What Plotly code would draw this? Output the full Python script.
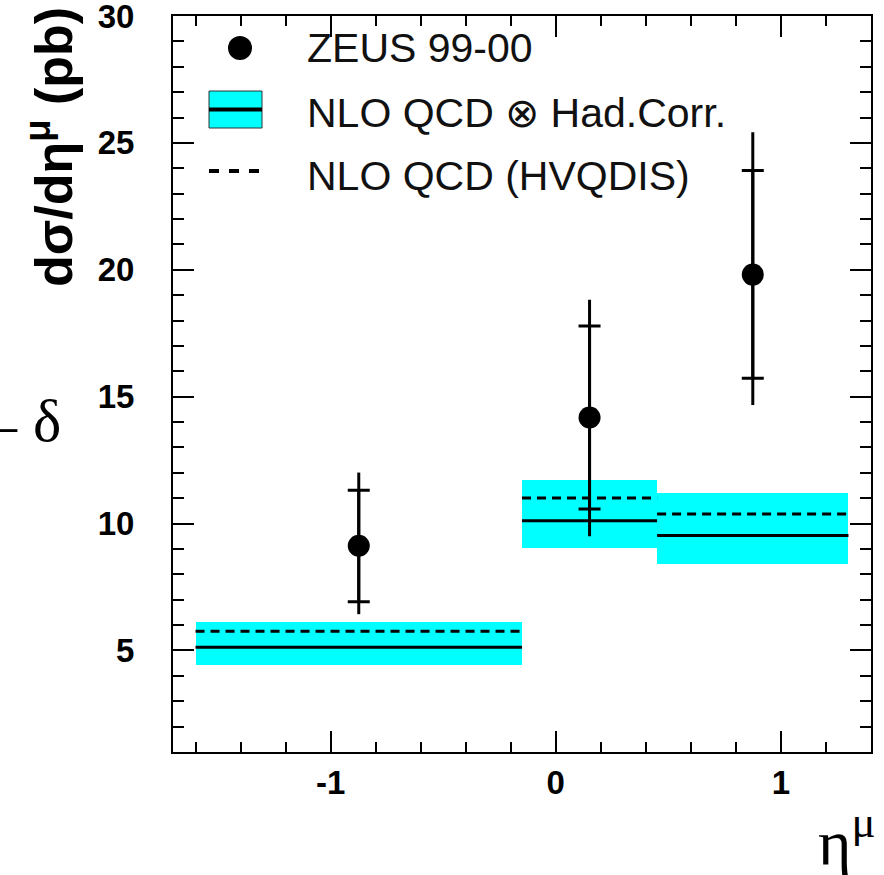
import plotly.graph_objects as go

# ---------------- data ----------------
bin_lo = [-1.6, -0.15, 0.45]
bin_hi = [-0.15, 0.45, 1.3]
eta_mu = [-0.875, 0.15, 0.875]
zeus_xsec = [9.13, 14.18, 19.81]
zeus_stat_up = [2.18, 3.61, 4.10]
zeus_stat_dn = [2.21, 3.61, 4.08]
zeus_tot_up = [2.88, 4.64, 5.61]
zeus_tot_dn = [2.70, 4.68, 5.14]
nlo_had = [5.13, 10.11, 9.53]
nlo_had_hi = [6.12, 11.71, 11.22]
nlo_had_lo = [4.44, 9.04, 8.40]
nlo_hvqdis = [5.76, 11.01, 10.38]
x_ticks = [-1, 0, 1]
x_tick_text = ["-1", "0", "1"]
y_ticks = [5, 10, 15, 20, 25, 30]
y_tick_text = ["5", "10", "15", "20", "25", "30"]

W, H = 884, 875
L, R, T, B = 173, 13, 16, 123
PW, PH = W - L - R, H - T - B


def px(xp):
    return (xp - L) / PW


def py(yp):
    return (H - B - yp) / PH


CYAN = "#00FFFF"
fig = go.Figure()

# theory band (NLO QCD x Had.Corr. uncertainty)
centers = [(a + b) / 2 for a, b in zip(bin_lo, bin_hi)]
widths = [b - a for a, b in zip(bin_lo, bin_hi)]
fig.add_trace(go.Bar(
    x=centers, y=[h - l for h, l in zip(nlo_had_hi, nlo_had_lo)], base=nlo_had_lo,
    width=widths, marker=dict(color=CYAN, line=dict(width=0)), showlegend=False,
    hoverinfo="skip"))


def steps(vals):
    xs, ys = [], []
    for a, b, v in zip(bin_lo, bin_hi, vals):
        xs += [a, b, None]
        ys += [v, v, None]
    return xs, ys


xs, ys = steps(nlo_had)
fig.add_trace(go.Scatter(x=xs, y=ys, mode="lines", line=dict(color="black", width=3),
                         showlegend=False))
xs, ys = steps(nlo_hvqdis)
fig.add_trace(go.Scatter(x=xs, y=ys, mode="lines",
                         line=dict(color="black", width=3, dash="9px,6px"),
                         showlegend=False))

# ZEUS data: total errors (line) + statistical ticks
fig.add_trace(go.Scatter(
    x=eta_mu, y=zeus_xsec, mode="markers",
    marker=dict(color="rgba(0,0,0,0)", size=1),
    error_y=dict(type="data", symmetric=False, array=zeus_stat_up, arrayminus=zeus_stat_dn,
                 color="black", thickness=3, width=11),
    showlegend=False))
fig.add_trace(go.Scatter(
    x=eta_mu, y=zeus_xsec, mode="markers",
    marker=dict(color="black", size=22, symbol="circle"),
    error_y=dict(type="data", symmetric=False, array=zeus_tot_up, arrayminus=zeus_tot_dn,
                 color="black", thickness=3, width=0),
    showlegend=False))

shapes = []
annotations = []

# legend (drawn manually)
shapes.append(dict(type="circle", xref="paper", yref="paper",
                   x0=px(228), x1=px(252), y0=py(36), y1=py(60),
                   fillcolor="black", line=dict(color="black", width=0)))
shapes.append(dict(type="rect", xref="paper", yref="paper",
                   x0=px(209), x1=px(262), y0=py(91), y1=py(128),
                   fillcolor=CYAN, line=dict(color="#333333", width=1)))
shapes.append(dict(type="line", xref="paper", yref="paper",
                   x0=px(209), x1=px(262), y0=py(109.5), y1=py(109.5),
                   line=dict(color="black", width=4)))
shapes.append(dict(type="line", xref="paper", yref="paper",
                   x0=px(209), x1=px(262), y0=py(171), y1=py(171),
                   line=dict(color="black", width=4, dash="10px,10px")))

LEG_FONT = dict(family="Liberation Sans, Arial, sans-serif", size=41, color="#111111")
for txt, yc in [("ZEUS 99-00", 48), ("NLO QCD ⊗ Had.Corr.", 113), ("NLO QCD (HVQDIS)", 176)]:
    annotations.append(dict(text=txt, x=px(305), y=py(yc), xref="paper", yref="paper",
                            xanchor="left", yanchor="middle", showarrow=False, font=LEG_FONT))

# y-axis title
annotations.append(dict(text="<b>dσ/dη<sup>μ</sup> (pb)</b>", x=px(50), y=py(147),
                        xref="paper", yref="paper", xanchor="center", yanchor="middle",
                        textangle=-90, showarrow=False,
                        font=dict(family="Liberation Sans, Arial, sans-serif", size=52,
                                  color="black")))
# stray texts from the page
SERIF = "Liberation Serif, Times New Roman, serif"
annotations.append(dict(text="–", x=px(2), y=py(424), xref="paper", yref="paper",
                        xanchor="center", yanchor="middle", showarrow=False,
                        font=dict(family=SERIF, size=58, color="black")))
annotations.append(dict(text="δ", x=px(47), y=py(421), xref="paper", yref="paper",
                        xanchor="center", yanchor="middle", showarrow=False,
                        font=dict(family=SERIF, size=60, color="black")))
annotations.append(dict(text="η<sup>μ</sup>", x=px(878), y=py(880), xref="paper", yref="paper",
                        xanchor="right", yanchor="bottom", showarrow=False,
                        font=dict(family=SERIF, size=64, color="black")))

TICKFONT = dict(family="Liberation Sans, Arial, sans-serif", size=33, color="black",
                weight="bold")

fig.update_layout(
    width=W, height=H, margin=dict(l=L, r=R, t=T, b=B, autoexpand=False),
    paper_bgcolor="white", plot_bgcolor="white", barmode="overlay", bargap=0,
    showlegend=False, shapes=shapes, annotations=annotations,
    xaxis=dict(range=[-1.7, 1.4], tickmode="array", tickvals=x_ticks, ticktext=x_tick_text,
               ticks="inside", ticklen=21, tickwidth=2, tickcolor="black",
               minor=dict(dtick=0.2, tick0=0, ticks="inside", ticklen=10, tickwidth=1.5,
                          tickcolor="black", showgrid=False),
               showline=True, linewidth=2, linecolor="black", mirror="allticks",
               showgrid=False, zeroline=False, tickfont=TICKFONT, ticklabelstandoff=0,
               ticklabeloverflow="allow", automargin=False),
    yaxis=dict(range=[1, 30], tickmode="array", tickvals=y_ticks, ticktext=y_tick_text,
               ticks="inside", ticklen=21, tickwidth=2, tickcolor="black",
               minor=dict(dtick=1, tick0=0, ticks="inside", ticklen=11, tickwidth=1.5,
                          tickcolor="black", showgrid=False),
               showline=True, linewidth=2, linecolor="black", mirror="allticks",
               showgrid=False, zeroline=False, tickfont=TICKFONT, ticklabelstandoff=30,
               ticklabeloverflow="allow", automargin=False),
)

fig.write_html("out.html", config={"displayModeBar": False},
               post_script="document.body.style.margin='0';")
